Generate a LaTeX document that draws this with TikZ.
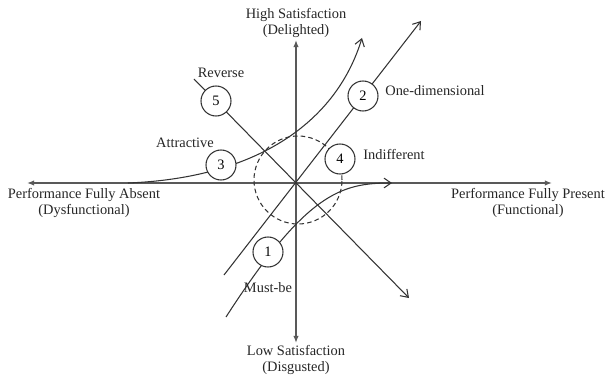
\documentclass[tikz,border=0pt]{standalone}
\usepackage{fontspec}
\setmainfont{Liberation Serif}
\usetikzlibrary{arrows.meta,positioning}

\begin{document}
\begin{tikzpicture}[x=0.2mm,y=0.2mm,font=\fontsize{8.2}{9.6}\selectfont,
 axis/.style={{Latex[length=4pt,width=3pt]}-{Latex[length=4pt,width=3pt]},draw=black!65,line width=.7pt},
 arr/.style={-{Straight Barb[length=4pt,width=5.5pt]},draw=black!80,line width=.6pt},
 num/.style={circle,draw=black!80,fill=white,line width=.6pt,minimum size=6mm,inner sep=0pt},
 lbl/.style={align=center,text=black!85}]
\useasboundingbox (-296,-194) rectangle (311,183);
% axes
\coordinate (absent) at (-269,0);
\coordinate (present) at (256,0);
\coordinate (high) at (0,143);
\coordinate (low) at (0,-160);
\draw[axis] (absent)--(present);
\draw[axis] (low)--(high);
\node[lbl] (hi) at (0,160) {High Satisfaction\\(Delighted)};
\node[lbl] (lo) at (0,-177) {Low Satisfaction\\(Disgusted)};
\node[lbl] (dys) at (-212,-20) {Performance Fully Absent\\(Dysfunctional)};
\node[lbl] (fun) at (232,-20) {Performance Fully Present\\(Functional)};
% indifferent zone
\draw[black!80,line width=.6pt,dash pattern=on 2.6pt off 1.8pt] (2,3) circle [radius=8.8mm];
% quality curves
\coordinate (rs) at (-102,104);
\coordinate (re) at (113,-115);
\coordinate (os) at (-72,-92);
\coordinate (oe) at (125,162);
\coordinate (as) at (-168,0);
\coordinate (ae) at (66,145);
\coordinate (ms) at (-70,-134);
\coordinate (me) at (96,0);
\draw[arr] (rs)--(re);
\draw[arr] (os)--(oe);
\draw[arr] (as) .. controls (-40,5) and (40,60) .. (ae);
\draw[arr] (ms) .. controls (10,-10) and (45,0) .. (me);
\node[num] (n1) at (-28,-69) {1};
\node[num] (n2) at (67,87) {2};
\node[num] (n3) at (-75,18) {3};
\node[num] (n4) at (44,24) {4};
\node[num] (n5) at (-80,82) {5};
\node[lbl] (must) at (-28,-105) {Must-be};
\node[lbl] (one) at (139,92) {One-dimensional};
\node[lbl] (attr) at (-111,40) {Attractive};
\node[lbl] (ind) at (98,29) {Indifferent};
\node[lbl] (rev) at (-75,110) {Reverse};
\end{tikzpicture}
\end{document}
